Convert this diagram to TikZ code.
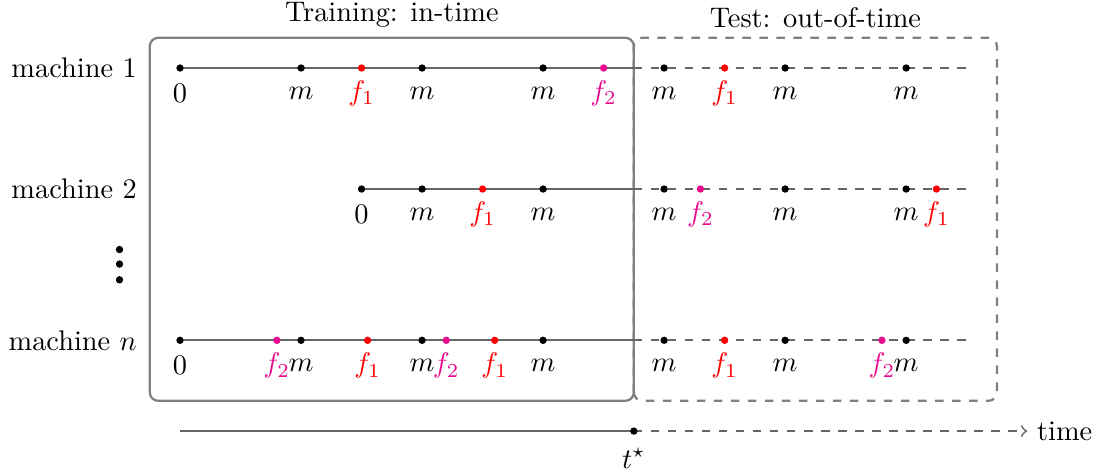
\documentclass[tikz,border=0pt]{standalone}
\usepackage{amsmath,amssymb}
\usepackage{xcolor}
\usepackage{tikz}
\usetikzlibrary{positioning}
\definecolor{fone}{HTML}{FF0000}
\definecolor{ftwo}{HTML}{E60A8C}
\definecolor{linec}{HTML}{666666}
\definecolor{boxc}{HTML}{808080}
\tikzset{
  tl/.style={semithick,linec},
  boxline/.style={thick,boxc,rounded corners=3pt},
  lab/.style={inner sep=1pt}
}

\begin{document}
\begin{tikzpicture}[x=0.75cm,y=0.75cm]
\useasboundingbox (-2.975,-6.727) rectangle (15.22,1.124);
% train / test windows
\draw[boxline] (-0.5,-5.5) rectangle (7.5,0.5);
\draw[boxline,dashed] (7.5,-5.5) rectangle (13.5,0.5);
\node[above] (train) at (3.5,0.5) {Training: in-time};
\node[above] (test) at (10.5,0.5) {Test: out-of-time};
% machines
\node[left] (mach1) at (-0.55,0) {machine 1};
\node[left] (mach2) at (-0.55,-2) {machine 2};
\node[left] (machn) at (-0.55,-4.5) {machine $n$};
\fill (-1,-3) circle (1.3pt) (-1,-3.24) circle (1.3pt) (-1,-3.5) circle (1.3pt);
% time lines
\coordinate (s1) at (0,0);
\coordinate (t1) at (7.5,0);
\coordinate (e1) at (13,0);
\coordinate (s2) at (3,-2);
\coordinate (t2) at (7.5,-2);
\coordinate (e2) at (13,-2);
\coordinate (sn) at (0,-4.5);
\coordinate (tn) at (7.5,-4.5);
\coordinate (en) at (13,-4.5);
\draw[tl] (s1) -- (t1);
\draw[tl,dashed] (t1) -- (e1);
\draw[tl] (s2) -- (t2);
\draw[tl,dashed] (t2) -- (e2);
\draw[tl] (sn) -- (tn);
\draw[tl,dashed] (tn) -- (en);
% events
\foreach \x/\c/\l [count=\i] in {0/black/0,2/black/m,3/fone/f_1,4/black/m,6/black/m,7/ftwo/f_2,8/black/m,9/fone/f_1,10/black/m,12/black/m}
  {\fill[\c] (\x,0) circle (1.3pt);
   \node[lab,\c] (a\i) at (\x,-0.42) {$\l$};}
\foreach \x/\c/\l [count=\i] in {3/black/0,4/black/m,5/fone/f_1,6/black/m,8/black/m,8.6/ftwo/f_2,10/black/m,12/black/m,12.5/fone/f_1}
  {\fill[\c] (\x,-2) circle (1.3pt);
   \node[lab,\c] (b\i) at (\x,-2.42) {$\l$};}
\foreach \x/\c/\l [count=\i] in {0/black/0,1.6/ftwo/f_2,2/black/m,3.1/fone/f_1,4/black/m,4.4/ftwo/f_2,5.2/fone/f_1,6/black/m,8/black/m,9/fone/f_1,10/black/m,11.6/ftwo/f_2,12/black/m}
  {\fill[\c] (\x,-4.5) circle (1.3pt);
   \node[lab,\c] (c\i) at (\x,-4.92) {$\l$};}
% time axis
\coordinate (ts) at (0,-6);
\coordinate (tt) at (7.5,-6);
\node[right] (time) at (14,-6) {time};
\draw[tl] (ts) -- (tt);
\draw[tl,dashed,->] (tt) -- (time);
\fill (tt) circle (1.3pt);
\node (tstar) at (7.5,-6.45) {$t^\star$};
\end{tikzpicture}
\end{document}
